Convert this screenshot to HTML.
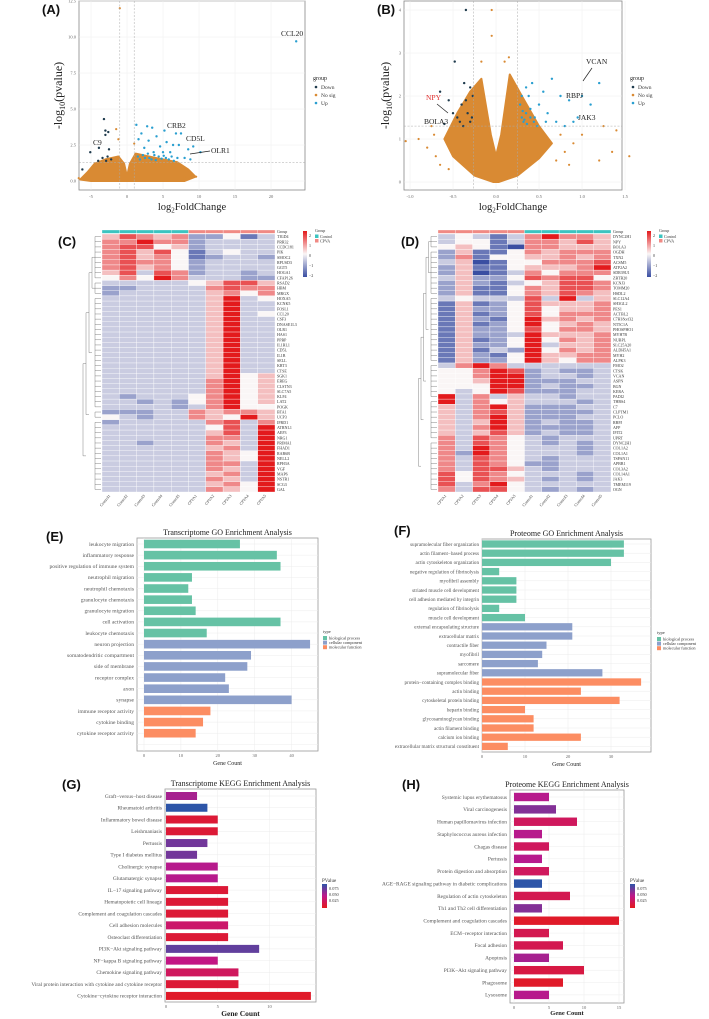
<!DOCTYPE html>
<html><head><meta charset="utf-8"><style>
html,body{margin:0;padding:0;background:#fff;}
svg{display:block;font-family:"Liberation Serif",serif;}
.pl{font-family:"Liberation Sans",sans-serif;font-weight:bold;font-size:13px;fill:#111;}
</style></head><body>
<svg id="fig" width="709" height="1019" viewBox="0 0 709 1019" xmlns="http://www.w3.org/2000/svg">
<text class="pl" x="42" y="14">(A)</text>
<text class="pl" x="377" y="14">(B)</text>
<text class="pl" x="58" y="246">(C)</text>
<text class="pl" x="401" y="246">(D)</text>
<text class="pl" x="46" y="541">(E)</text>
<text class="pl" x="394" y="535">(F)</text>
<text class="pl" x="62" y="789">(G)</text>
<text class="pl" x="402" y="789">(H)</text>
</svg>
<script>
// ---------- Volcano A data ----------
const aUpPoints=[[1.3,3.9],[2.8,3.8],[3.5,3.7],[5.2,3.5],[6.8,3.3],[7.5,3.3],[2,3.3],[4.1,3.1],[3,2.8],[1.6,2.9],[5.5,2.7],[6.4,2.5],[7.2,2.5],[4.6,2.4],[2.4,2.3],[9.2,2.4],[8.5,2.2],[3.7,2.0],[5,2.0],[6,2.0],[2.2,1.8],[4.4,1.7],[7,1.6],[8,1.6],[10.2,2.0],[8.8,1.5],[3.1,1.6],[5.8,1.5],[1.8,1.5],[6.5,1.4],[2.5,1.6],[3.4,1.5],[4.0,1.45],[4.8,1.55],[5.4,1.6],[6.2,1.7],[1.5,1.7],[2.9,1.9],[3.8,1.8],[5.1,1.75],[23.5,9.7]];
const aDownPoints=[[-3.2,4.3],[-3.0,3.5],[-2.6,3.4],[-3.0,3.2],[-3.9,2.3],[-5.1,2.0],[-2.5,2.2],[-2.7,1.7],[-3.4,1.6],[-2.2,1.5],[-2.9,1.4],[-4.0,1.4],[-6.2,0.8]];
const aNoSigEnvelope=[[-6.5,0.1],[-5.5,0.6],[-4.5,1.2],[-3,1.5],[-1.2,1.7],[-0.4,1.2],[0,0.3],[0.4,1.2],[1.2,1.9],[4,1.6],[7,1.3],[8.5,0.8],[9.5,0.3],[8,0],[0,0],[-5,0]];
const aNoSigPoints=[[-1,12],[-1.5,3.6],[-1.2,2.9],[1,2.6],[8,0.3],[-6.7,0.2],[9.6,0.3]];
const aXTicks=[-5,0,5,10,15,20];
const aYTicks=[0,2.5,5,7.5,10,12.5];
// ---------- Volcano B data ----------
const bUpPoints=[[0.3,1.5],[0.35,1.6],[0.32,1.4],[0.4,1.7],[0.45,1.5],[0.38,2.0],[0.5,1.8],[0.55,2.1],[0.6,1.6],[0.65,2.4],[0.7,1.4],[0.75,2.0],[0.8,1.3],[0.85,1.9],[0.28,1.8],[0.42,2.3],[0.9,1.4],[0.95,1.5],[1.0,2.0],[1.1,1.8],[1.2,2.3],[0.35,2.2],[0.48,1.3],[0.58,1.4],[0.3,2.0],[0.33,1.45],[0.36,1.35],[0.4,1.5],[0.44,1.4],[0.31,1.65]];
const bDownPoints=[[-0.65,2.1],[-0.55,1.9],[-0.5,1.6],[-0.45,1.5],[-0.42,1.4],[-0.4,1.8],[-0.35,1.9],[-0.3,2.2],[-0.33,1.6],[-0.28,1.5],[-0.3,1.4],[-0.38,1.3],[-0.6,1.35],[-0.35,4],[-0.48,2.8],[-0.27,2.0],[-0.37,2.3]];
const bNoSigEnvelope=[[-0.6,1.0],[-0.45,1.6],[-0.3,2.1],[-0.17,2.4],[-0.06,1.1],[0,0.6],[0.06,1.1],[0.16,2.5],[0.3,2.0],[0.5,1.3],[0.65,0.9],[0.5,0.55],[0.25,0.15],[0.03,0],[-0.03,0],[-0.25,0.15],[-0.5,0.6]];
const bNoSigPoints=[[-1.05,0.95],[-0.9,1.0],[-0.75,1.3],[1.25,1.3],[1.4,1.2],[1.55,0.6],[1.35,0.7],[1.2,0.5],[-0.05,4.0],[-0.05,3.4],[0.15,2.9],[0.1,2.8],[-0.17,2.8],[-0.7,0.6],[-0.8,0.8],[-0.65,0.4],[0.8,0.7],[0.9,0.9],[0.75,1.1],[-0.55,0.3],[0.7,0.5],[1.0,1.1],[-0.72,1.1],[0.85,0.4]];
const bXTicks=[-1.0,-0.5,0.0,0.5,1.0,1.5];
const bYTicks=[0,1,2,3,4];
// ---------- Heatmap C ----------
const cGenes=["TIGD4","PRR32","CCDC181","PIK","SMOC2","RPUSD3","GGT5","HOGA1","CFAP126","RSAD2","HBM","MRGX","HOXA5","KCNK5","FOSL1","CCL20","CSF3","DNASE1L3","OLR1","HAS1","PPBP","IL1RL1","CD5L","IL1B","SELL","KRT3","CTSE","SGK1","EREG","CLSTN3","SLC7A5","KLF4","LAT2","POGK","BTA1","UCP3","IFRD1","ATRNL1","AEF3","NRG1","PRIMA1","FHAD1","RAB6B","NELL2","RPH3A","VGF","MAP6","NSTR1","SCG3","GAL"];
const cSamples=["Control1","Control2","Control3","Control4","Control5","CPVA1","CPVA2","CPVA3","CPVA4","CPVA5"];
const cGroups=["C","C","C","C","C","P","P","P","P","P"];
const cLevels=["5765622413","6686623333","6774523333","6757413433","6756412332","6766423333","6756423333","5737623323","4648633322","3333345775","2233336766","2333335646",
"3333335834","3333335833","3333335833","3333335834","3333335833","3333335833","3333335833","3333335833","3333335833","3333335833","3333335833","3333335833","3333335833","3333335833","3333335833",
"3333335845","3333336845","3333336845","3333336845","3233346845","3323246845","3333236844","2223365665","4323365485",
"2333336736","3333334738","3333335738","3333336638","3323336538","3333335638","3333336548","3333336548","3333336638","3333336538","3333335638","3333336538","3333335648","3333336548"];
// ---------- Heatmap D ----------
const dGenes=["DYNC2H1","NPY","BOLA3","OGDH","TXN2","ACSM5","ATP2A2","SDR39U1","ZBTB20","KCNJ3","TOMM20","HSDL2","SLC12A4","SH3GL2","PES1","ACTBL2","C7H18orf32","NT5C1A","PHOSPHO1","MYH7B","NUBPL","SLC25A20","ALDH5A1","MYH2","ALPK3","FMO2","CTSK","VCAN","ASPN","BGN","KERA","PADI2","THBS4","C7","CLPTM1","PCLO","RBPJ","AFP","IFIT2","UPRT","DYNC2H1","COL1A2","COL1A1","TSPAN11","APBB1","COL3A2","COL14A1","JAK3","TMEM119","OGN"];
const dSamples=["CPVA1","CPVA2","CPVA3","CPVA4","CPVA5","Control1","Control2","Control3","Control4","Control5"];
const dGroups=["P","P","P","P","P","C","C","C","C","C"];
const dLevels=["3431368665","3441366575","4541066555","2511465666","2614455656","3501446667","2511455568","2501364666","3522476774","2521345776","2511465776","2511465765",
"3433373835","1512475556","1522474556","1512474666","1521485656","1512484565","1522474665","1522385556","1512484656","1522483556","1513284656","1521485566","1522485466",
"3686333333","4468723223","4468823323","4458822233","4448823223","4348722233","8363533233","8364533323",
"5368522233","5367522223","5368522233","5358523223","5368522223","5357523223",
"6376432333","6376432323","6386433323","6286433323","6376432333","6376422333","6377532333","7476433323","7476532323","7368433333","6377432323"];
// ---------- E: Transcriptome GO ----------
const eTerms=["leukocyte migration","inflammatory response","positive regulation of immune system","neutrophil migration","neutrophil chemotaxis","granulocyte chemotaxis","granulocyte migration","cell activation","leukocyte chemotaxis","neuron projection","somatodendritic compartment","side of membrane","receptor complex","axon","synapse","immune receptor activity","cytokine binding","cytokine receptor activity"];
const eCounts=[26,36,37,13,12,13,14,37,17,45,29,28,22,23,40,18,16,14];
const eTypes=["bp","bp","bp","bp","bp","bp","bp","bp","bp","cc","cc","cc","cc","cc","cc","mf","mf","mf"];
const eTicks=[0,10,20,30,40];
// ---------- F: Proteome GO ----------
const fTerms=["supramolecular fiber organization","actin filament−based process","actin cytoskeleton organization","negative regulation of fibrinolysis","myofibril assembly","striated muscle cell development","cell adhesion mediated by integrin","regulation of fibrinolysis","muscle cell development","external encapsulating structure","extracellular matrix","contractile fiber","myofibril","sarcomere","supramolecular fiber","protein−containing complex binding","actin binding","cytoskeletal protein binding","heparin binding","glycosaminoglycan binding","actin filament binding","calcium ion binding","extracellular matrix structural constituent"];
const fCounts=[33,33,30,4,8,8,8,4,10,21,21,15,14,13,28,37,23,32,10,12,12,23,6];
const fTypes=["bp","bp","bp","bp","bp","bp","bp","bp","bp","cc","cc","cc","cc","cc","cc","mf","mf","mf","mf","mf","mf","mf","mf"];
const fTicks=[0,10,20,30];
// ---------- G: Transcriptome KEGG ----------
const gTerms=["Graft−versus−host disease","Rheumatoid arthritis","Inflammatory bowel disease","Leishmaniasis","Pertussis","Type I diabetes mellitus","Cholinergic synapse","Glutamatergic synapse","IL−17 signaling pathway","Hematopoietic cell lineage","Complement and coagulation cascades","Cell adhesion molecules","Osteoclast differentiation","PI3K−Akt signaling pathway","NF−kappa B signaling pathway","Chemokine signaling pathway","Viral protein interaction with cytokine and cytokine receptor","Cytokine−cytokine receptor interaction"];
const gCounts=[3,4,5,5,4,3,5,5,6,6,6,6,6,9,5,7,7,14];
const gPvalues=[0.05,0.085,0.01,0.01,0.065,0.065,0.045,0.045,0.01,0.01,0.01,0.03,0.01,0.07,0.04,0.025,0.01,0.005];
const gTicks=[0,5,10];
// ---------- H: Proteome KEGG ----------
const hTerms=["Systemic lupus erythematosus","Viral carcinogenesis","Human papillomavirus infection","Staphylococcus aureus infection","Chagas disease","Pertussis","Protein digestion and absorption","AGE−RAGE signaling pathway in diabetic complications","Regulation of actin cytoskeleton","Th1 and Th2 cell differentiation","Complement and coagulation cascades","ECM−receptor interaction","Focal adhesion","Apoptosis","PI3K−Akt signaling pathway","Phagosome","Lysosome"];
const hCounts=[5,6,9,4,5,4,5,4,8,4,15,5,7,5,10,7,5];
const hPvalues=[0.045,0.06,0.025,0.045,0.025,0.045,0.025,0.085,0.02,0.06,0.005,0.02,0.02,0.05,0.015,0.005,0.045];
const hTicks=[0,5,10,15];
const pLegendTicks=["0.075","0.050","0.025"];

const NS="http://www.w3.org/2000/svg";
const svg=document.getElementById('fig');
function mk(tag,attrs,parent){const e=document.createElementNS(NS,tag);for(const k in attrs)e.setAttribute(k,attrs[k]);(parent||svg).appendChild(e);return e;}
function lin(d0,d1,r0,r1){return v=>r0+(v-d0)*(r1-r0)/(d1-d0);}
function mix(a,b,t){const p=h=>[1,3,5].map(i=>parseInt(h.substr(i,2),16));const A=p(a),B=p(b);return 'rgb('+A.map((v,i)=>Math.round(v+(B[i]-v)*t)).join(',')+')';}

// ================= Volcano =================
function volcano(o){
  const g=mk('g',{});
  
  
  const x=lin(o.xd[0],o.xd[1],o.xr[0],o.xr[1]), y=lin(o.yd[0],o.yd[1],o.yr[0],o.yr[1]);
  const bg=mk('rect',{x:o.box[0],y:o.box[1],width:o.box[2]-o.box[0],height:o.box[3]-o.box[1],fill:'#fff',stroke:'#888','stroke-width':0.8},g);
  
  
  o.xt.forEach(t=>{
    const gl=mk('line',{x1:x(t),x2:x(t),y1:o.box[1],y2:o.box[3],stroke:'#eee','stroke-width':0.5},g);
    
    
    const tk=mk('text',{x:x(t),y:o.box[3]+8,'font-size':4.5,fill:'#666','text-anchor':'middle'},g);
    
    
    tk.textContent=o.xfmt(t);
  });
  o.yt.forEach(t=>{
    const gl=mk('line',{x1:o.box[0],x2:o.box[2],y1:y(t),y2:y(t),stroke:'#eee','stroke-width':0.5},g);
    
    
    const tk=mk('text',{x:o.box[0]-3,y:y(t)+1.5,'font-size':4.5,fill:'#666','text-anchor':'end'},g);
    
    
    tk.textContent=o.yfmt(t);
  });
  const env=mk('polygon',{points:o.env.map(p=>x(p[0])+','+y(p[1])).join(' '),fill:'#d98a33',stroke:'#d98a33','stroke-width':2,'stroke-linejoin':'round'},g);
  
  
  o.ns.forEach(p=>{const c=mk('circle',{cx:x(p[0]),cy:y(p[1]),r:1.1,fill:'#d98a33'},g);
    
    });
  o.up.forEach(p=>{const c=mk('circle',{cx:x(p[0]),cy:y(p[1]),r:1.2,fill:'#2a9fd0'},g);
    
    });
  o.down.forEach(p=>{const c=mk('circle',{cx:x(p[0]),cy:y(p[1]),r:1.2,fill:'#1f3b4d'},g);
    
    });
  const hl=mk('line',{x1:o.box[0],x2:o.box[2],y1:y(1.3),y2:y(1.3),stroke:'#aaa','stroke-width':0.5,'stroke-dasharray':'2,1.5'},g);
  
  
  o.vx.forEach(v=>{const l=mk('line',{x1:x(v),x2:x(v),y1:o.box[1],y2:o.box[3],stroke:'#aaa','stroke-width':0.5,'stroke-dasharray':'2,1.5'},g);
    
    });
  const yt=mk('text',{x:0,y:0,'font-size':12,fill:'#222','text-anchor':'middle',transform:'translate('+o.ytx+','+(o.box[1]+o.box[3])/2+') rotate(-90)'},g);
  
  
  yt.innerHTML='-log<tspan font-size="8" dy="3">10</tspan><tspan dy="-3">(pvalue)</tspan>';
  const xt=mk('text',{x:(o.box[0]+o.box[2])/2,y:210,'font-size':10.5,fill:'#222','text-anchor':'middle'},g);
  
  
  xt.innerHTML='log<tspan font-size="7" dy="2.5">2</tspan><tspan dy="-2.5">FoldChange</tspan>';
  const lx=o.box[2]+8;
  const lt=mk('text',{x:lx,y:80,'font-size':6,fill:'#222'},g);
  
  
  lt.textContent='group';
  [['Down','#1f3b4d'],['No sig','#d98a33'],['Up','#2a9fd0']].forEach((it,i)=>{
    const c=mk('circle',{cx:lx+3,cy:87+i*8,r:1.3,fill:it[1]},g);
    
    
    const t=mk('text',{x:lx+8,y:89+i*8,'font-size':5.5,fill:'#333'},g);
    
    
    t.textContent=it[0];
  });
  o.labels.forEach(L=>{
    const t=mk('text',{x:L[1],y:L[2],'font-size':7.5,fill:L[3]||'#222'},g);
    
    
    t.textContent=L[0];
    if(L[4]){const l=mk('line',{x1:L[4][0],y1:L[4][1],x2:L[4][2],y2:L[4][3],stroke:'#222','stroke-width':0.7},g);
      
      }
  });
}
volcano({name:'volcano-transcriptome',box:[79,1,305,190],xd:[0,5],xr:[127,163],yd:[0,2.5],yr:[181,145],xt:aXTicks,yt:aYTicks,
  xfmt:v=>String(v),yfmt:v=>v.toFixed(1),env:aNoSigEnvelope,ns:aNoSigPoints,up:aUpPoints,down:aDownPoints,vx:[-1,1],ytx:62,
  labels:[['CCL20',281,36],['CRB2',167,128],['CD5L',186,141],['OLR1',211,153,null,[210,151,190,154]],['C9',93,145]]});
volcano({name:'volcano-proteome',box:[404,1,622,190],xd:[0,0.5],xr:[496,539],yd:[0,1],yr:[182,139],xt:bXTicks,yt:bYTicks,
  xfmt:v=>v.toFixed(1),yfmt:v=>String(v),env:bNoSigEnvelope,ns:bNoSigPoints,up:bUpPoints,down:bDownPoints,vx:[-0.26,0.25],ytx:389,
  labels:[['VCAN',586,64,null,[592,68,583,81]],['RBPJ',566,98],['JAK3',578,120],['NPY',426,100,'#e03030',[437,104,448,113]],['BOLA3',424,124]]});

// ================= Heatmaps =================
function heat(o){
  const g=mk('g',{});
  
  
  const nC=o.samples.length,nR=o.genes.length,cw=(o.x1-o.x0)/nC,rh=(o.y1-o.y0)/nR;
  const col=v=>v<=4?mix('#3a4ea2','#faf6f6',v/4):mix('#faf6f6','#e31a1c',(v-4)/4);
  o.groups.forEach((gr,j)=>{const r=mk('rect',{x:o.x0+j*cw,y:o.y0-4,width:cw,height:3.4,fill:gr==='C'?'#3cc4c0':'#f08a84',stroke:'#fff','stroke-width':0.3},g);
    
    });
  const gl=mk('text',{x:o.x1+2,y:o.y0-1,'font-size':4,fill:'#333'},g);
  
  
  gl.textContent='Group';
  o.levels.forEach((row,i)=>{
    for(let j=0;j<nC;j++){const v=+row[j];
      const r=mk('rect',{x:o.x0+j*cw,y:o.y0+i*rh,width:cw,height:rh,fill:col(v),stroke:'#fff','stroke-width':0.35},g);
      
      }
    const t=mk('text',{x:o.x1+2,y:o.y0+i*rh+rh*0.8,'font-size':4,fill:'#333'},g);
    
    
    t.textContent=o.genes[i];
  });
  o.samples.forEach((s,j)=>{const cx=o.x0+j*cw+cw/2;
    const t=mk('text',{x:cx,y:o.y1+4,'font-size':4,fill:'#333','text-anchor':'end',transform:'rotate(-50 '+cx+' '+(o.y1+4)+')'},g);
    
    
    t.textContent=s;});
  const right=o.x0-1,yc=i=>o.y0+i*rh+rh/2;let cur=[];
  o.clusters.forEach((cl,k)=>{
    const xl=right-6;let ys=[];
    for(let i=cl[0];i<=cl[1];i++){const xi=right-2-((i*7)%4);
      const l=mk('line',{x1:right,x2:xi,y1:yc(i),y2:yc(i),stroke:'#666','stroke-width':0.4},g);
      
      
      const l2=mk('line',{x1:xi,x2:xl,y1:yc(i),y2:yc(i),stroke:'#666','stroke-width':0.4},g);
      
      ys.push(yc(i));}
    const v=mk('line',{x1:xl,x2:xl,y1:ys[0],y2:ys[ys.length-1],stroke:'#666','stroke-width':0.4},g);
    
    
    cur.push((ys[0]+ys[ys.length-1])/2);
  });
  let lv=right-6,step=(right-6-(o.x0-22))/cur.length;
  while(cur.length>1){const nx=lv-step;const a=cur.shift(),b=cur.shift();
    [a,b].forEach(yy=>{const l=mk('line',{x1:lv,x2:nx,y1:yy,y2:yy,stroke:'#666','stroke-width':0.4},g);
      
      });
    const v=mk('line',{x1:nx,x2:nx,y1:a,y2:b,stroke:'#666','stroke-width':0.4},g);
    
    
    cur.unshift((a+b)/2);lv=nx;}
  const lx=o.legx;
  const gd=mk('defs',{},g);const lg=mk('linearGradient',{id:o.name+'-grad',x1:0,y1:0,x2:0,y2:1},gd);
  [['0','#e31a1c'],['0.5','#faf6f6'],['1','#3a4ea2']].forEach(s=>mk('stop',{offset:s[0],'stop-color':s[1]},lg));
  const cb=mk('rect',{x:lx,y:o.y0-3,width:4,height:46,fill:'url(#'+o.name+'-grad)'},g);
  
  
  ['2','1','0','−1','−2'].forEach((s,i)=>{const t=mk('text',{x:lx+6,y:o.y0+3+i*10,'font-size':4,fill:'#333'},g);
    
    t.textContent=s;});
  const gt=mk('text',{x:lx+12,y:o.y0-2,'font-size':4,fill:'#333'},g);
  
  gt.textContent='Group';
  [['Control','#3cc4c0'],['CPVA','#f08a84']].forEach((it,i)=>{
    const r=mk('rect',{x:lx+12,y:o.y0+0.5+i*4.5,width:3.5,height:3.5,fill:it[1]},g);
    
    
    const t=mk('text',{x:lx+17,y:o.y0+3.8+i*4.5,'font-size':4,fill:'#333'},g);
    
    t.textContent=it[0];});
}
heat({name:'heatmap-transcriptome',x0:102,x1:275,y0:234,y1:492,genes:cGenes,samples:cSamples,groups:cGroups,levels:cLevels,legx:303,
  clusters:[[0,8],[9,11],[12,33],[34,35],[36,49]]});
heat({name:'heatmap-proteome',x0:438,x1:611,y0:234,y1:492,genes:dGenes,samples:dSamples,groups:dGroups,levels:dLevels,legx:647,
  clusters:[[0,2],[3,11],[12,24],[25,31],[32,39],[40,49]]});

// ================= Bar charts =================
const typeColor={bp:'#66c2a5',cc:'#8da0cb',mf:'#fc8d62'};
function pColor(p){const t=Math.min(p/0.085,1);return t<0.5?mix('#e41a1c','#c0168a',t*2):mix('#c0168a','#2d55a8',(t-0.5)*2);}
function bars(o){
  const g=mk('g',{});
  
  
  const x=lin(0,o.tickStep,o.x0,o.x0+o.tickStep*o.ppu);
  const n=o.slots;const y=i=>o.yFirst+i*o.dy;
  const box=mk('rect',{x:o.box[0],y:o.box[1],width:o.box[2]-o.box[0],height:o.box[3]-o.box[1],fill:'#fff',stroke:'#999','stroke-width':0.8},g);
  
  
  o.ticks.forEach(t=>{
    const l=mk('line',{x1:x(t),x2:x(t),y1:o.box[1],y2:o.box[3],stroke:'#ececec','stroke-width':0.5},g);
    
    
    const tk=mk('text',{x:x(t),y:o.box[3]+6,'font-size':4.5,fill:'#666','text-anchor':'middle'},g);
    
    tk.textContent=t;
  });
  for(let i=0;i<n;i++){const l=mk('line',{x1:o.box[0],x2:o.box[2],y1:y(i),y2:y(i),stroke:'#ececec','stroke-width':0.5},g);
    
    }
  o.terms.forEach((term,i)=>{
    const r=mk('rect',{x:x(0),y:y(i)-o.bh/2,width:x(o.counts[i])-x(0),height:o.bh,fill:o.color(i)},g);
    
    
    const t=mk('text',{x:o.box[0]-3,y:y(i)+1.8,'font-size':o.fs,fill:'#555','text-anchor':'end'},g);
    
    t.textContent=term;
  });
  const tt=mk('text',{x:(o.box[0]+o.box[2])/2,y:o.box[1]-3,'font-size':8,fill:'#222','text-anchor':'middle'},g);
  
  tt.textContent=o.title;
  const xt=mk('text',{x:(o.box[0]+o.box[2])/2,y:o.box[3]+o.xtOff,'font-size':o.xtFs,fill:'#222','text-anchor':'middle','font-weight':o.xtBold?'bold':'normal'},g);
  
  xt.textContent='Gene Count';
  const lx=o.legx,ly=o.legy;
  if(o.legend==='type'){
    const t=mk('text',{x:lx,y:ly,'font-size':4.5,fill:'#333'},g);
    
    t.textContent='type';
    [['biological process','bp'],['cellular component','cc'],['molecular function','mf']].forEach((it,i)=>{
      const r=mk('rect',{x:lx,y:ly+3+i*4.6,width:4,height:4,fill:typeColor[it[1]]},g);
      
      
      const e=mk('text',{x:lx+6,y:ly+6.5+i*4.6,'font-size':4.3,fill:'#333'},g);
      
      e.textContent=it[0];});
  } else {
    const t=mk('text',{x:lx,y:ly,'font-size':5,fill:'#333'},g);
    
    t.textContent='PValue';
    const gd=mk('defs',{},g);const lg=mk('linearGradient',{id:o.name+'-pg',x1:0,y1:0,x2:0,y2:1},gd);
    [['0','#2d55a8'],['0.5','#c0168a'],['1','#e41a1c']].forEach(s=>mk('stop',{offset:s[0],'stop-color':s[1]},lg));
    const cb=mk('rect',{x:lx,y:ly+2,width:5,height:24,fill:'url(#'+o.name+'-pg)'},g);
    
    
    pLegendTicks.forEach((s,i)=>{const e=mk('text',{x:lx+7,y:ly+8+i*6,'font-size':4.3,fill:'#333'},g);
      
      e.textContent=s;});
  }
}
bars({name:'go-transcriptome',box:[137,538,318,751],x0:144,ppu:3.69,tickStep:10,ticks:eTicks,yFirst:544,dy:11.13,slots:19,bh:8.6,
  terms:eTerms,counts:eCounts,color:i=>typeColor[eTypes[i]],fs:5.6,title:'Transcriptome GO Enrichment Analysis',xtOff:14,xtFs:6,legend:'type',legx:323,legy:633});
bars({name:'go-proteome',box:[482,539,651,752],x0:482,ppu:4.3,tickStep:10,ticks:fTicks,yFirst:544,dy:9.2,slots:23,bh:7.3,
  terms:fTerms,counts:fCounts,color:i=>typeColor[fTypes[i]],fs:5.1,title:'Proteome GO Enrichment Analysis',xtOff:14,xtFs:6,legend:'type',legx:657,legy:634});
bars({name:'kegg-transcriptome',box:[165,789,316,1002],x0:166,ppu:10.35,tickStep:5,ticks:gTicks,yFirst:796,dy:11.76,slots:18,bh:8,
  terms:gTerms,counts:gCounts,color:i=>pColor(gPvalues[i]),fs:5.4,title:'Transcriptome KEGG Enrichment Analysis',xtOff:14,xtFs:7.5,xtBold:true,legend:'p',legx:322,legy:882});
bars({name:'kegg-proteome',box:[510,790,624,1003],x0:514,ppu:7,tickStep:5,ticks:hTicks,yFirst:797,dy:12.37,slots:17,bh:8.4,
  terms:hTerms,counts:hCounts,color:i=>pColor(hPvalues[i]),fs:5.4,title:'Proteome KEGG Enrichment Analysis',xtOff:12,xtFs:6.5,xtBold:true,legend:'p',legx:630,legy:882});
</script>
</body></html>
